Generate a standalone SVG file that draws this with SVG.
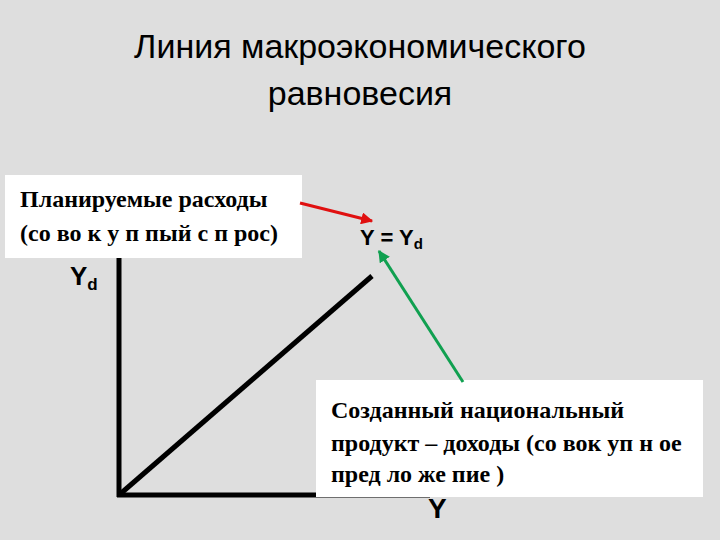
<svg xmlns="http://www.w3.org/2000/svg" width="720" height="540" viewBox="0 0 720 540">
<style>
.t{font-family:"Liberation Sans",Arial,sans-serif;fill:#000}
.s{font-family:"Liberation Serif","Times New Roman",serif;font-weight:bold;fill:#000}
.ax{stroke:#000;stroke-width:5;fill:none}
</style>
<defs>
<marker id="ar" viewBox="0 0 10 10" refX="9" refY="5" markerWidth="4" markerHeight="4" orient="auto"><path d="M0,0L10,5L0,10z" fill="#e01010"/></marker>
<marker id="ag" viewBox="0 0 10 10" refX="9" refY="5" markerWidth="4" markerHeight="4" orient="auto"><path d="M0,0L10,5L0,10z" fill="#10a050"/></marker>
</defs>
<rect width="720" height="540" fill="#dedede"/>
<text class="t" x="360" y="58" font-size="34" text-anchor="middle" fill="#111">Линия макроэкономического</text>
<text class="t" x="360" y="105" font-size="34" text-anchor="middle" fill="#111">равновесия</text>
<g id="axes">
<line class="ax" x1="119" y1="255" x2="119" y2="497"/>
<line class="ax" x1="117" y1="495" x2="430" y2="495"/>
<line class="ax" x1="119" y1="495" x2="372" y2="276"/>
</g>
<g id="box1"><rect x="5" y="175" width="297" height="83" fill="#fff"/>
<text class="s" x="20" y="207" font-size="24">Планируемые расходы</text>
<text class="s" x="20" y="241" font-size="24">(со во к у п пый  с п рос)</text></g>
<g id="box2"><rect x="316" y="380" width="387" height="117" fill="#fff"/>
<text class="s" x="331" y="418" font-size="24">Созданный национальный</text>
<text class="s" x="331" y="451" font-size="24">продукт – доходы (со вок уп н ое</text>
<text class="s" x="331" y="482" font-size="24">пред ло же пие )</text></g>
<g id="labels">
<text class="t" x="360" y="245" font-size="22" font-weight="bold">Y = Y<tspan font-size="15" dy="4">d</tspan></text>
<text class="t" x="70" y="285" font-size="26" font-weight="bold">Y<tspan font-size="17" dy="5">d</tspan></text>
<text class="t" x="428" y="518" font-size="28" font-weight="bold">Y</text>
</g>
<g id="connectors">
<line x1="300" y1="203" x2="372" y2="221" stroke="#e01010" stroke-width="3" marker-end="url(#ar)"/>
<line x1="463" y1="382" x2="379" y2="251" stroke="#10a050" stroke-width="3" marker-end="url(#ag)"/>
</g>
</svg>
